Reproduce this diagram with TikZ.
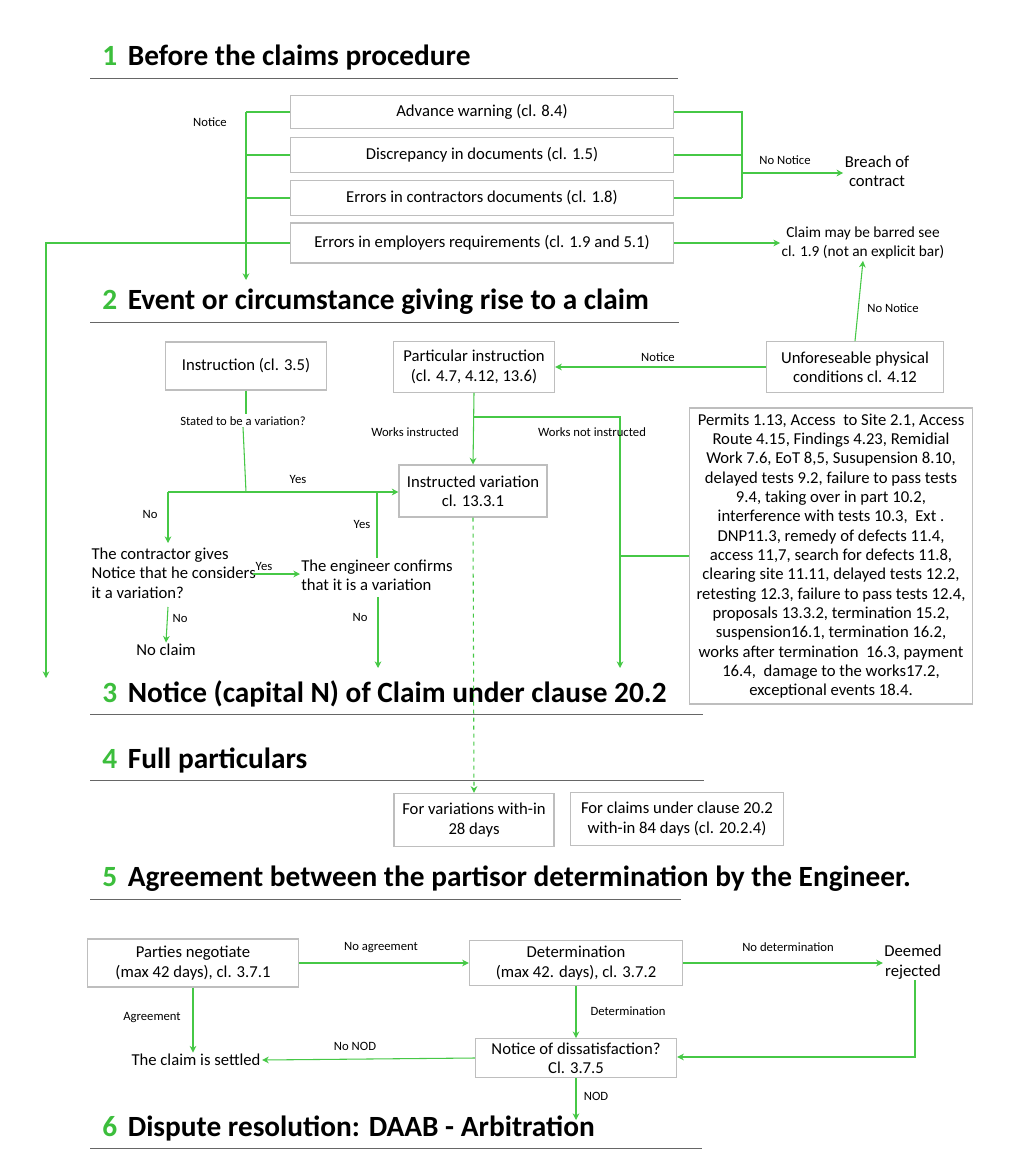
\documentclass[tikz,border=0pt]{standalone}
\usepackage{fontspec}
\setmainfont{Carlito}
\usetikzlibrary{arrows.meta,positioning}
\definecolor{flowgreen}{RGB}{70,200,70}
\definecolor{numgreen}{RGB}{60,190,60}
\definecolor{boxgray}{RGB}{190,190,190}
\tikzset{
  box/.style={draw=boxgray, thick, align=center, font=\fontsize{12.5}{14.5}\selectfont, inner sep=2pt},
  lbl/.style={font=\fontsize{9.5}{11}\selectfont, inner sep=1pt},
  txt/.style={align=center, font=\fontsize{12.5}{14.5}\selectfont, inner sep=1pt},
  flow/.style={draw=flowgreen, thick, -{Stealth[length=5pt,width=5pt]}},
  wire/.style={draw=flowgreen, thick},
  head/.style={anchor=west, font=\fontsize{22}{24}\selectfont\bfseries, inner sep=0pt},
  rule/.style={draw=black!60, thin}
}
\newcommand{\stagehead}[4]{%
  \node[head] (h#1) at (102,#2) {\textcolor{numgreen}{#1}\hspace{8pt}#3};
  \draw[rule] (90,#2+20) -- (#4,#2+20);}
\begin{document}
\begin{tikzpicture}[x=0.75pt,y=-0.75pt]
    \useasboundingbox (0,0) rectangle (1008,1160);
    \fill[white] (0,0) rectangle (1008,1160);

    % stage headings
    \stagehead{1}{58}{Before the claims procedure}{678}
    \stagehead{2}{302}{Event or circumstance giving rise to a claim}{679}
    \stagehead{3}{694}{Notice (capital N) of Claim under clause 20.2}{703}
    \stagehead{4}{760}{Full particulars}{704}
    \stagehead{5}{879}{Agreement between the partisor determination by the Engineer.}{681}
    \stagehead{6}{1128}{Dispute resolution: DAAB - Arbitration}{702}

    % stage 1 boxes
    \node[box, minimum width=287pt, minimum height=25pt] (adv) at (482,112) {Advance warning (cl. 8.4)};
    \node[box, minimum width=287pt, minimum height=26pt] (disc) at (482,155) {Discrepancy in documents (cl. 1.5)};
    \node[box, minimum width=287pt, minimum height=26pt] (errc) at (482,198) {Errors in contractors documents (cl. 1.8)};
    \node[box, minimum width=287pt, minimum height=30pt] (erre) at (482,243) {Errors in employers requirements (cl. 1.9 and 5.1)};
    \node[txt] (breach) at (877,171) {Breach of\\contract};
    \node[txt] (barred) at (863,243) {\fontsize{11.5}{14}\selectfont Claim may be barred see\\\fontsize{11.5}{14}\selectfont cl. 1.9 (not an explicit bar)};
    \coordinate (lbus) at (246,280);
    \coordinate (farleft) at (46,678);

    % notice bus on the left
    \draw[wire] (adv.west) -- (246,112);
    \draw[wire] (disc.west) -- (246,155);
    \draw[wire] (errc.west) -- (246,198);
    \draw[flow] (246,112) -- (lbus);
    \node[lbl] at (210,122) {Notice};
    \draw[flow] (erre.west) -- (46,243) -- (farleft);

    % no notice bus on the right
    \draw[wire] (adv.east) -- (742,112) -- (742,198);
    \draw[wire] (disc.east) -- (742,155);
    \draw[wire] (errc.east) -- (742,198);
    \draw[flow] (742,173) -- (breach.west |- 0,173);
    \node[lbl] at (785,160) {No Notice};
    \draw[flow] (erre.east) -- (barred.west |- erre.east);

    % stage 2
    \node[box, minimum width=121pt, minimum height=36pt] (instr) at (246,366) {Instruction (cl. 3.5)};
    \node[box, minimum width=121pt, minimum height=38pt] (partic) at (474,367) {Particular instruction\\(cl. 4.7, 4.12, 13.6)};
    \node[box, minimum width=133pt, minimum height=38pt] (unfore) at (855,367) {Unforeseable physical\\conditions cl. 4.12};
    \node[box, minimum width=111pt, minimum height=39pt] (instvar) at (473,491) {Instructed variation\\cl. 13.3.1};
    \node[box, minimum width=212pt, minimum height=222pt] (permits) at (831,556) {Permits 1.13, Access\ \ to Site 2.1, Access\\Route 4.15, Findings 4.23, Remidial\\Work 7.6, EoT 8,5, Susupension 8.10,\\delayed tests 9.2, failure to pass tests\\9.4, taking over in part 10.2,\\interference with tests 10.3,\ \ Ext .\\DNP11.3, remedy of defects 11.4,\\access 11,7, search for defects 11.8,\\clearing site 11.11, delayed tests 12.2,\\retesting 12.3, failure to pass tests 12.4,\\proposals 13.3.2, termination 15.2,\\suspension16.1, termination 16.2,\\works after termination\ \ 16.3, payment\\16.4,\ \ damage to the works17.2,\\exceptional events 18.4.};
    \node[txt, align=left, anchor=west] (contr) at (90,573) {The contractor gives\\Notice that he considers\\it a variation?};
    \node[txt, align=left] (engin) at (377,575) {The engineer confirms\\that it is a variation};
    \node[txt] (noclaim) at (166,650) {No claim};
    \coordinate (n3a) at (378,668);
    \coordinate (n3b) at (620,668);

    \draw[flow] (unfore.west) -- (partic.east);
    \node[lbl] at (658,357) {Notice};
    \draw[flow] (unfore.north) -- (barred.south);
    \node[lbl] at (893,308) {No Notice};
    \draw[wire] (instr.south) -- (246,414);
    \node[lbl] (stated) at (243,421) {Stated to be a variation?};
    \draw[wire] (stated.south) -- (246,492);
    \draw[flow] (168,492) -- (instvar.west |- 0,492);
    \node[lbl] at (298,479) {Yes};
    \draw[flow] (168,492) -- (168,543);
    \node[lbl] at (150,514) {No};
    \draw[wire] (engin.north -| 377,0) -- (377,492);
    \node[lbl] at (362,524) {Yes};
    \draw[flow] (253,574) -- (300,574);
    \node[lbl] at (264,566) {Yes};
    \draw[flow] (168,607) -- (noclaim.north);
    \node[lbl] at (180,618) {No};
    \draw[flow] (378,597) -- (n3a);
    \node[lbl] at (360,617) {No};
    \draw[flow] (partic.south) -- (instvar.north);
    \node[lbl] at (415,432) {Works instructed};
    \draw[flow] (473,417) -- (620,417) -- (n3b);
    \node[lbl] at (592,432) {Works not instructed};
    \draw[wire] (permits.west) -- (620,556);

    % stage 4
    \node[box, minimum width=120pt, minimum height=40pt] (forvar) at (474,820) {For variations with-in\\28 days};
    \node[box, minimum width=160pt, minimum height=40pt] (forclaim) at (677,819) {For claims under clause 20.2\\with-in 84 days (cl. 20.2.4)};
    \draw[flow, dashed] (instvar.south) -- (forvar.north);

    % stage 5
    \node[box, minimum width=158pt, minimum height=36pt] (negot) at (193,963) {Parties negotiate\\(max 42 days), cl. 3.7.1};
    \node[box, minimum width=160pt, minimum height=34pt] (determ) at (576,963) {Determination\\(max 42. days), cl. 3.7.2};
    \node[txt] (deemed) at (913,962) {Deemed\\rejected};
    \node[box, minimum width=151pt, minimum height=29pt] (nod) at (576,1058) {Notice of dissatisfaction?\\Cl. 3.7.5};
    \node[txt] (settled) at (196,1060) {The claim is settled};
    \coordinate (s6) at (576,1120);

    \draw[flow] (negot.east) -- (determ.west);
    \node[lbl] at (381,948) {No agreement};
    \draw[flow] (determ.east) -- (deemed.west |- determ.east);
    \node[lbl] at (788,947) {No determination};
    \draw[flow] (negot.south) -- (settled.north -| negot.south);
    \node[lbl] at (152,1018) {Agreement};
    \draw[flow] (determ.south) -- (nod.north);
    \node[lbl] at (628,1011) {Determination};
    \draw[flow] (deemed.south -| 915,0) -- (915,1057) -- (nod.east |- 0,1057);
    \draw[flow] (nod.west) -- (settled.east);
    \node[lbl] at (355,1046) {No NOD};
    \draw[flow] (nod.south) -- (s6);
    \node[lbl] at (596,1096) {NOD};
\end{tikzpicture}
\end{document}
